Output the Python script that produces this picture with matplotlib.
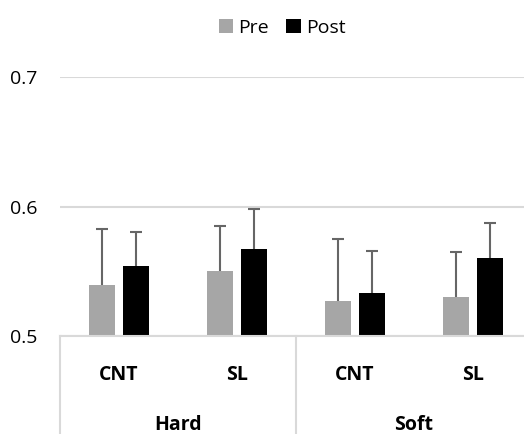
import numpy as np
import matplotlib.pyplot as plt
import matplotlib.transforms as mtransforms

plt.rcParams['font.family'] = ['Open Sans', 'DejaVu Sans']

# Data
groups = ['Hard', 'Soft']
conditions = ['CNT', 'SL', 'CNT', 'SL']
pre = [0.539, 0.550, 0.527, 0.530]
post = [0.554, 0.567, 0.533, 0.560]
pre_err = [0.044, 0.035, 0.048, 0.035]
post_err = [0.026, 0.031, 0.033, 0.027]
series = ['Pre', 'Post']

grey = '#a6a6a6'
grid_col = '#d9d9d9'
err_col = '#666666'

fig = plt.figure(figsize=(5.24, 4.34), dpi=100)
# plot area is a bit wider than the picture, as in the original (right edge clipped)
ax = fig.add_axes([60 / 524, 98 / 434, 472 / 524, 259 / 434])

x = np.arange(len(conditions)) + 0.5
w = 0.22
off = 0.142
cap = 0.05

ax.bar(x - off, pre, w, color=grey, label=series[0], zorder=2)
ax.bar(x + off, post, w, color='black', label=series[1], zorder=2)

# upper-only error bars
for xs, vals, errs in [(x - off, pre, pre_err), (x + off, post, post_err)]:
    tops = np.array(vals) + np.array(errs)
    ax.vlines(xs, vals, tops, color=err_col, linewidth=1.5, zorder=3)
    ax.hlines(tops, xs - cap, xs + cap, color=err_col, linewidth=1.5, zorder=3)

ax.set_ylim(0.5, 0.7)
ax.set_xlim(0, 4)
ax.set_yticks([0.5, 0.6, 0.7])
ax.set_yticklabels(['0.5', '0.6', '0.7'])
ax.yaxis.grid(True, color=grid_col, linewidth=1.5, zorder=0)
ax.tick_params(axis='y', length=0, labelsize=14, pad=16, colors='black')
ax.set_xticks([])
for s in ['top', 'right', 'left']:
    ax.spines[s].set_visible(False)
ax.spines['bottom'].set_color(grid_col)
ax.spines['bottom'].set_linewidth(1.5)

# two-level category axis
trans = mtransforms.blended_transform_factory(ax.transData, ax.transAxes)
for xi, lab in zip(x, conditions):
    ax.text(xi, -0.152, lab, transform=trans, ha='center', va='center',
            fontsize=14, fontweight='bold')
for gi, g in enumerate(groups):
    ax.text(gi * 2 + 1, -0.345, g, transform=trans, ha='center', va='center',
            fontsize=14, fontweight='bold')
for xs in [0, 2, 4]:
    ax.plot([xs, xs], [0, -0.4], transform=trans, color=grid_col,
            linewidth=1.5, clip_on=False)

fig.legend(*ax.get_legend_handles_labels(), loc='center',
           bbox_to_anchor=(282 / 524, 1 - 28 / 434), ncol=2, frameon=False,
           fontsize=14, handlelength=0.75, handleheight=0.75, handletextpad=0.25,
           columnspacing=0.9)

fig.savefig('out.png', dpi=100)
